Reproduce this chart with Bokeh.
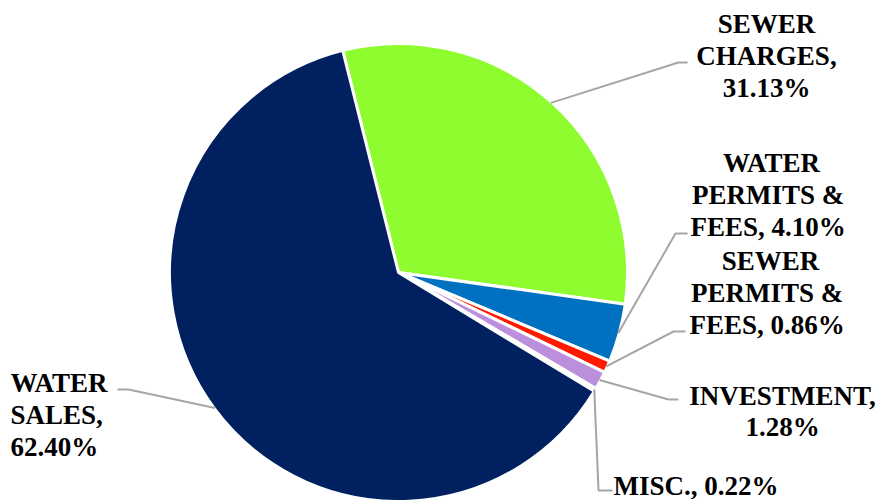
import math
from bokeh.plotting import figure
from bokeh.models import Range1d, Label
from bokeh.embed import file_html
from bokeh.resources import INLINE

# ---------------- data ----------------
categories = ["SEWER CHARGES", "WATER PERMITS & FEES", "SEWER PERMITS & FEES",
              "INVESTMENT", "MISC.", "WATER SALES"]
percentages = [31.13, 4.10, 0.86, 1.28, 0.22, 62.40]
colors = ["#8FFC2F", "#0070C0", "#FF1A00", "#BC8FDD", "#E8E8E8", "#002060"]

# label wrapping (text lines of each category name) and whether the value shares the last line
name_lines = [["SEWER", "CHARGES,"],
              ["WATER", "PERMITS  &", "FEES,"],
              ["SEWER", "PERMITS  &", "FEES,"],
              ["INVESTMENT,"],
              ["MISC.,"],
              ["WATER", "SALES,"]]
value_on_last = [False, True, True, False, True, False]
value_sep = ["", "  ", "  ", "", " ", ""]

# ---------------- layout (pixel space, y down) ----------------
W, H = 878, 500
CX, CY, R = 398, 272, 229
FIRST_ANGLE = -14.1          # degrees clockwise from 12 o'clock
label_x = [766, 771, 770, 782, 613, 10]
label_y0 = [23, 162, 260, 395, 485, 382]
label_align = ["center", "center", "center", "center", "left", "left"]
line_step = [32, 32, 32, 31, 32, 32]
leader_elbow = [(678, 62), (675, 233), (673, 331), (668, 399), (598, 490), (128, 389)]
leader_end = [(687, 62), (687, 233), (685, 331), (678, 399), (612, 490), (117, 389)]

# ---------------- geometry ----------------
total = sum(percentages)
starts, ends, mids = [], [], []
acc = FIRST_ANGLE
for v in percentages:
    a0 = acc
    a1 = acc + v / total * 360.0
    starts.append(math.radians(90 - a0))
    ends.append(math.radians(90 - a1))
    mids.append((a0 + a1) / 2)
    acc = a1

p = figure(width=W, height=H, x_range=Range1d(0, W), y_range=Range1d(0, H),
           output_backend="svg", toolbar_location=None,
           x_axis_location=None, y_axis_location=None, min_border=0)
p.grid.visible = False
p.outline_line_color = None

p.wedge(x=[CX] * len(percentages), y=[H - CY] * len(percentages), radius=R,
        start_angle=starts, end_angle=ends, direction="clock",
        fill_color=colors, line_color="white", line_width=3)

# leader lines
for i, m in enumerate(mids):
    sx = CX + (R - 1) * math.sin(math.radians(m))
    sy = CY - (R - 1) * math.cos(math.radians(m))
    ex, ey = leader_elbow[i]
    fx, fy = leader_end[i]
    p.line([sx, ex, fx], [H - sy, H - ey, H - fy], line_color="#A6A6A6", line_width=2)

# labels as annotations
for i, cat in enumerate(categories):
    pct = f"{percentages[i]:.2f}%"
    lines = list(name_lines[i])
    if value_on_last[i]:
        lines[-1] = lines[-1] + value_sep[i] + pct
    else:
        lines.append(pct)
    for k, ln in enumerate(lines):
        p.add_layout(Label(x=label_x[i], y=H - (label_y0[i] + k * line_step[i]), text=ln,
                           text_align=label_align[i], text_baseline="middle",
                           text_font="Liberation Serif", text_font_style="bold",
                           text_font_size="27px", text_color="black"))

open("out.html", "w").write(file_html(p, INLINE))
